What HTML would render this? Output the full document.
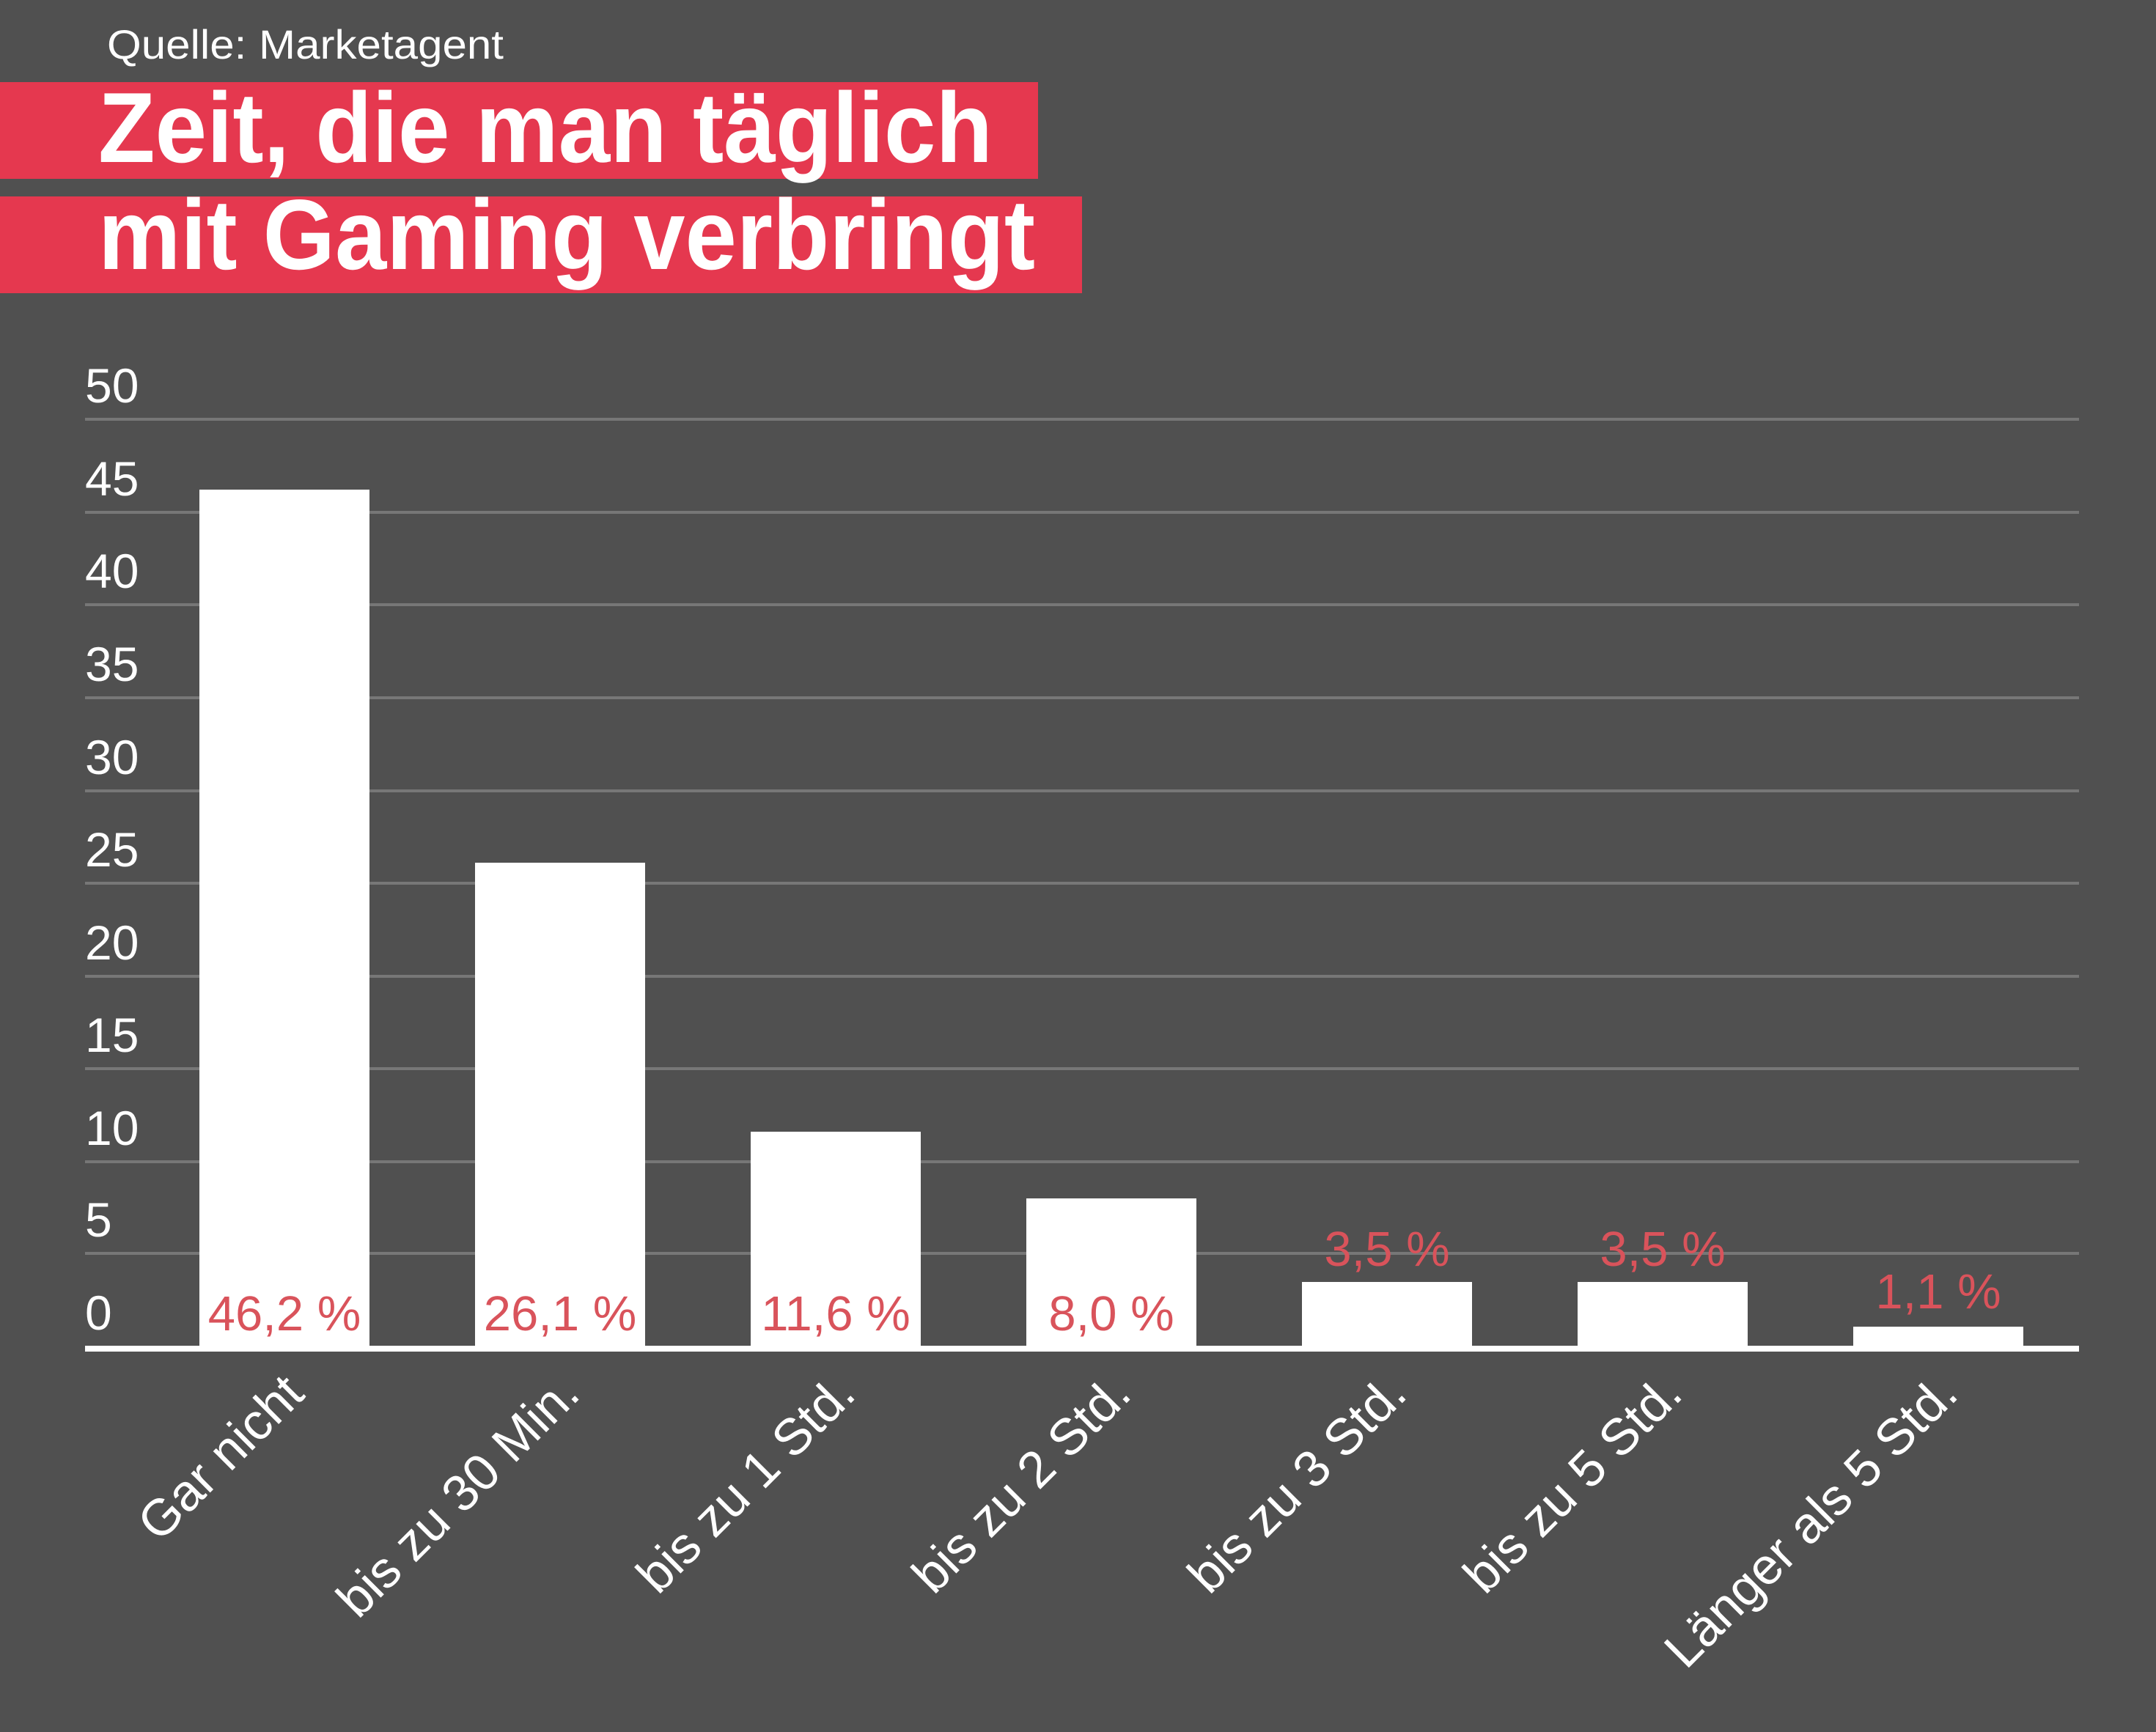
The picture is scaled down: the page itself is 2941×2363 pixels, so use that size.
<!DOCTYPE html>
<html><head><meta charset="utf-8"><style>
html,body{margin:0;padding:0;background:#505050;}
svg{display:block;}
</style></head><body>
<svg width="2941" height="2363" viewBox="0 0 2941 2363" xmlns="http://www.w3.org/2000/svg" font-family="'Liberation Sans', sans-serif">
<rect width="2941" height="2363" fill="#505050"/>
<text x="146" y="80" font-size="56" fill="#fff" textLength="541" lengthAdjust="spacingAndGlyphs">Quelle: Marketagent</text>
<rect x="0" y="112" width="1416" height="132" fill="#e5384f"/>
<rect x="0" y="268" width="1476" height="132" fill="#e5384f"/>
<text x="134" y="221" font-size="136" font-weight="bold" fill="#fff" textLength="1220" lengthAdjust="spacingAndGlyphs">Zeit, die man täglich</text>
<text x="134" y="367" font-size="136" font-weight="bold" fill="#fff" textLength="1278" lengthAdjust="spacingAndGlyphs">mit Gaming verbringt</text>
<g stroke="#777" stroke-width="4">
<line x1="116" x2="2836" y1="572" y2="572"/>
<line x1="116" x2="2836" y1="699" y2="699"/>
<line x1="116" x2="2836" y1="825" y2="825"/>
<line x1="116" x2="2836" y1="952" y2="952"/>
<line x1="116" x2="2836" y1="1079" y2="1079"/>
<line x1="116" x2="2836" y1="1205" y2="1205"/>
<line x1="116" x2="2836" y1="1332" y2="1332"/>
<line x1="116" x2="2836" y1="1458" y2="1458"/>
<line x1="116" x2="2836" y1="1585" y2="1585"/>
<line x1="116" x2="2836" y1="1710" y2="1710"/>
</g>
<g font-size="66" fill="#fff">
<text x="116" y="549">50</text>
<text x="116" y="676">45</text>
<text x="116" y="802">40</text>
<text x="116" y="929">35</text>
<text x="116" y="1056">30</text>
<text x="116" y="1182">25</text>
<text x="116" y="1309">20</text>
<text x="116" y="1435">15</text>
<text x="116" y="1562">10</text>
<text x="116" y="1687">5</text>
<text x="116" y="1814">0</text>
</g>
<g fill="#fff">
<rect x="272" y="668" width="232" height="1172"/>
<rect x="648" y="1177" width="232" height="663"/>
<rect x="1024" y="1544" width="232" height="296"/>
<rect x="1400" y="1635" width="232" height="205"/>
<rect x="1776" y="1749" width="232" height="91"/>
<rect x="2152" y="1749" width="232" height="91"/>
<rect x="2528" y="1810" width="232" height="30"/>
</g>
<rect x="116" y="1836" width="2720" height="8" fill="#fff"/>
<g font-size="67" fill="#d9535b" text-anchor="middle">
<text x="388" y="1815">46,2 %</text>
<text x="764" y="1815">26,1 %</text>
<text x="1140" y="1815">11,6 %</text>
<text x="1516" y="1815">8,0 %</text>
<text x="1892" y="1727">3,5 %</text>
<text x="2268" y="1727">3,5 %</text>
<text x="2644" y="1785">1,1 %</text>
</g>
<g font-size="70" fill="#fff" text-anchor="end">
<text transform="translate(418,1905) rotate(-45)">Gar nicht</text>
<text transform="translate(794,1905) rotate(-45)">bis zu 30 Min.</text>
<text transform="translate(1170,1905) rotate(-45)">bis zu 1 Std.</text>
<text transform="translate(1546,1905) rotate(-45)">bis zu 2 Std.</text>
<text transform="translate(1922,1905) rotate(-45)">bis zu 3 Std.</text>
<text transform="translate(2298,1905) rotate(-45)">bis zu 5 Std.</text>
<text transform="translate(2674,1905) rotate(-45)">Länger als 5 Std.</text>
</g>
</svg>
</body></html>
